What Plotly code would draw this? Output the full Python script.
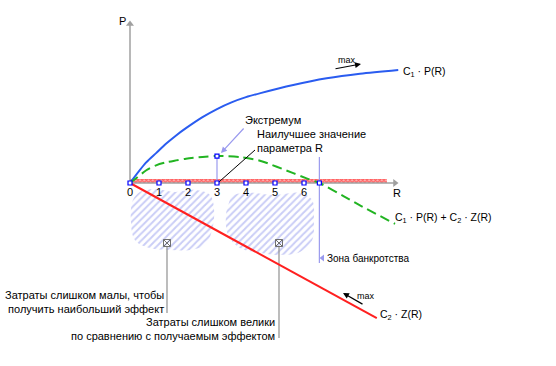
import plotly.graph_objects as go

# ---- data (R units horizontally, P units vertically) ----
tick_values = [0, 1, 2, 3, 4, 5, 6]
tick_labels = ["0", "1", "2", "3", "4", "5", "6"]

blue_R = [0, 0.55, 0.90, 1.24, 1.59, 1.93, 2.50, 3.00, 3.50, 4.00, 4.50, 5.63, 6.78, 7.93, 9.25]
blue_P = [0, 0.70, 1.03, 1.35, 1.64, 1.89, 2.27, 2.55, 2.78, 2.96, 3.10, 3.38, 3.61, 3.77, 3.90]

green_R = [0, 0.21, 0.55, 0.90, 1.24, 1.59, 1.93, 2.50, 3.00, 3.85, 4.48, 5.06, 5.63, 6.09, 6.53, 7.36, 7.93, 9.14]
green_P = [0, 0.16, 0.43, 0.61, 0.71, 0.78, 0.84, 0.90, 0.93, 0.89, 0.77, 0.56, 0.34, 0.16, 0.0, -0.45, -0.77, -1.41]

red_R = [0, 8.51]
red_P = [0, -4.66]

extremum_R, extremum_P = 3.0, 0.93
bankrupt_R = 6.53

band_R = [0, 8.86, 8.86, 0, 0]
band_P = [0, 0, 0.14, 0.14, 0]

blob1_R = [0.34, 0.86, 1.55, 2.24, 2.76, 2.90, 2.83, 2.59, 2.07, 1.38, 0.69, 0.17, 0.03, 0.10, 0.34]
blob1_P = [-0.31, -0.21, -0.31, -0.24, -0.41, -0.93, -1.62, -2.14, -2.31, -2.31, -2.24, -1.97, -1.28, -0.59, -0.31]
blob2_R = [3.52, 4.14, 5.00, 5.86, 6.28, 6.34, 6.28, 5.86, 5.17, 4.31, 3.79, 3.38, 3.31, 3.41, 3.52]
blob2_P = [-0.45, -0.34, -0.41, -0.34, -0.59, -1.28, -1.97, -2.38, -2.48, -2.38, -2.24, -1.79, -1.10, -0.69, -0.45]

# ---- pixel helpers for layout placement ----
X0, Y0, U = 130, 183, 29.0
def X(px):
    return (px - X0) / U
def Y(py):
    return (Y0 - py) / U

FONT = "Liberation Sans"
AX = "#a0a0a0"
HL = "#9a9aee"

fig = go.Figure()

# hatched blobs
for br, bp in [(blob1_R, blob1_P), (blob2_R, blob2_P)]:
    fig.add_trace(go.Scatter(x=br, y=bp, mode="lines", fill="toself",
                             line=dict(width=0, shape="spline", color="rgba(0,0,0,0)"),
                             fillcolor="rgba(255,255,255,0)",
                             fillpattern=dict(shape="/", size=5, solidity=0.4,
                                              fgcolor="#959cee", bgcolor="rgba(255,255,255,0)"),
                             hoverinfo="skip"))

# red hatched band
fig.add_trace(go.Scatter(x=band_R, y=band_P, mode="lines", fill="toself",
                         line=dict(width=0, color="rgba(0,0,0,0)"),
                         fillcolor="rgba(255,255,255,0)",
                         fillpattern=dict(shape="x", size=3, solidity=0.6,
                                          fgcolor="#ff0000", bgcolor="#ffb4b4"),
                         hoverinfo="skip"))

# axes
fig.add_trace(go.Scatter(x=[0, X(397)], y=[0, 0], mode="lines", line=dict(color=AX, width=1.5), hoverinfo="skip"))
fig.add_trace(go.Scatter(x=[0, 0], y=[0, Y(23)], mode="lines", line=dict(color=AX, width=1.5), hoverinfo="skip"))
fig.add_trace(go.Scatter(x=[X(395)], y=[0], mode="markers",
                         marker=dict(symbol="triangle-right", size=7, color=AX), hoverinfo="skip"))
fig.add_trace(go.Scatter(x=[0], y=[Y(24)], mode="markers",
                         marker=dict(symbol="triangle-up", size=7, color=AX), hoverinfo="skip"))

# helper vertical lines
fig.add_trace(go.Scatter(x=[extremum_R, extremum_R], y=[0, extremum_P], mode="lines",
                         line=dict(color=HL, width=1.2), hoverinfo="skip"))
fig.add_trace(go.Scatter(x=[bankrupt_R, bankrupt_R], y=[Y(157), Y(263)], mode="lines",
                         line=dict(color=HL, width=1.2), hoverinfo="skip"))

# leader lines for the blobs
fig.add_trace(go.Scatter(x=[X(167), X(167)], y=[Y(247), Y(313)], mode="lines",
                         line=dict(color="#909090", width=1.2), hoverinfo="skip"))
fig.add_trace(go.Scatter(x=[X(279), X(279)], y=[Y(247), Y(338)], mode="lines",
                         line=dict(color="#909090", width=1.2), hoverinfo="skip"))
fig.add_trace(go.Scatter(x=[X(167), X(279)], y=[Y(243), Y(243)], mode="markers",
                         marker=dict(symbol="square-x-open", size=7, color="#707070",
                                     line=dict(width=1)), hoverinfo="skip"))

# curves
fig.add_trace(go.Scatter(x=red_R, y=red_P, mode="lines", line=dict(color="#ff2020", width=2), hoverinfo="skip"))
fig.add_trace(go.Scatter(x=blue_R, y=blue_P, mode="lines",
                         line=dict(color="#2a5cf0", width=2, shape="spline", smoothing=0.8), hoverinfo="skip"))
fig.add_trace(go.Scatter(x=green_R, y=green_P, mode="lines",
                         line=dict(color="#22b422", width=2, shape="spline", smoothing=0.8,
                                   dash="10px,5px"), hoverinfo="skip"))

# black leader to best value
fig.add_trace(go.Scatter(x=[X(255), extremum_R + 0.05], y=[Y(150), 0.02], mode="lines",
                         line=dict(color="black", width=1), hoverinfo="skip"))

# markers
mk_R = tick_values + [bankrupt_R, extremum_R]
mk_P = [0] * len(tick_values) + [0, extremum_P]
fig.add_trace(go.Scatter(x=mk_R, y=mk_P, mode="markers",
                         marker=dict(symbol="square", size=4, color="white",
                                     line=dict(color="#0000ff", width=1.2)), hoverinfo="skip"))
# bankruptcy pointer
fig.add_trace(go.Scatter(x=[X(322.5)], y=[Y(258)], mode="markers",
                         marker=dict(symbol="triangle-left", size=6, color=HL), hoverinfo="skip"))

ann = []
def txt(px, py, s, xanchor="left", size=11, align="left"):
    ann.append(dict(x=X(px), y=Y(py), text=s, showarrow=False, xanchor=xanchor, yanchor="middle",
                    align=align, font=dict(family=FONT, size=size, color="black")))

for v, lab in zip(tick_values, tick_labels):
    ann.append(dict(x=v, y=Y(192), text=lab, showarrow=False, xanchor="center", yanchor="middle",
                    font=dict(family=FONT, size=11, color="black")))
txt(397, 193, "R", "center")
txt(122, 21, "P", "center")
txt(243, 120, "Экстремум")
txt(255, 141, "Наилучшее значение<br>параметра R")
txt(401, 72, "C<sub>1</sub> · P(R)", size=10.5)
txt(393, 218, "C<sub>1</sub> · P(R) + C<sub>2</sub> · Z(R)", size=10.5)
txt(378, 315, "C<sub>2</sub> · Z(R)", size=10.5)
txt(336, 60, "max", size=9)
txt(355, 296, "max", size=9)
txt(325, 258, "Зона банкротства", size=10)
txt(166, 302, "Затраты слишком малы, чтобы<br>получить наибольший эффект", "right", align="right")
txt(277, 329, "Затраты слишком велики<br>по сравнению с получаемым эффектом", "right", align="right")

# arrows
def arrow(x1, y1, x0, y0, color, head=2, size=1, width=1.2):
    ann.append(dict(x=X(x1), y=Y(y1), ax=X(x0), ay=Y(y0), xref="x", yref="y", axref="x", ayref="y",
                    text="", showarrow=True, arrowhead=head, arrowsize=size, arrowwidth=width,
                    arrowcolor=color))
arrow(221, 153, 245, 127, HL)
arrow(361, 64, 334, 69, "black")
arrow(343, 293, 364, 305, "black")

fig.update_layout(
    width=556, height=366, margin=dict(l=0, r=0, t=0, b=0),
    paper_bgcolor="white", plot_bgcolor="white", showlegend=False,
    xaxis=dict(range=[X(0), X(556)], visible=False, fixedrange=True),
    yaxis=dict(range=[Y(366), Y(0)], visible=False, fixedrange=True),
    annotations=ann,
)

fig.write_html("out.html", config={"displayModeBar": False},
               post_script="document.body.style.margin='0px';document.body.style.overflow='hidden';")
